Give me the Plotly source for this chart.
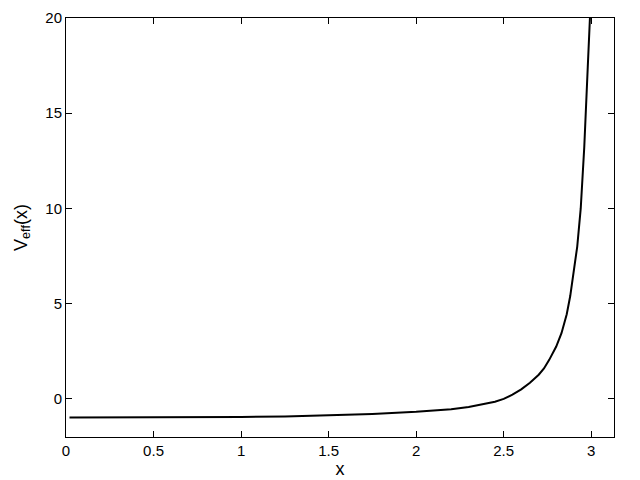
import plotly.graph_objects as go

# curve
x_vals = [0.02, 0.25, 0.5, 0.75, 0.9, 0.95, 1.0, 1.25, 1.5, 1.75, 2.0, 2.1,
          2.2, 2.3, 2.4, 2.45, 2.5, 2.55, 2.6, 2.65, 2.7, 2.73, 2.76, 2.8,
          2.83, 2.86, 2.88, 2.9, 2.92, 2.94, 2.96, 2.98, 2.995]
v_eff = [-0.97, -0.97, -0.97, -0.97, -0.96, -0.95, -0.95, -0.92, -0.87, -0.79,
         -0.68, -0.62, -0.54, -0.43, -0.27, -0.15, 0.0, 0.22, 0.5, 0.85, 1.27,
         1.6, 2.05, 2.75, 3.45, 4.45, 5.4, 6.6, 8.0, 10.0, 13.2, 17.4, 20.5]

x_ticks = [0, 0.5, 1, 1.5, 2, 2.5, 3]
y_ticks = [0, 5, 10, 15, 20]

fig = go.Figure(
    go.Scatter(
        x=x_vals,
        y=v_eff,
        mode='lines',
        line=dict(color='black', width=2),
        showlegend=False,
    )
)

axis_style = dict(
    showgrid=False,
    zeroline=False,
    showline=True,
    linecolor='black',
    linewidth=1,
    mirror='ticks',
    ticks='inside',
    ticklen=6,
    tickcolor='black',
    automargin=False,
    tickfont=dict(family='Liberation Sans, Arial, sans-serif', size=15, color='black'),
)

fig.update_xaxes(
    range=[0, 3.13],
    tickvals=x_ticks,
    title=dict(text='x', standoff=4),
    **axis_style,
)
fig.update_yaxes(
    range=[-2, 20],
    tickvals=y_ticks,
    title=dict(text='V<sub>eff</sub>(x)', standoff=13),
    **axis_style,
)

# the page body adds an 8px offset, so the figure is a bit smaller
fig.update_layout(
    width=632,
    height=472,
    margin=dict(l=58, r=26, t=10, b=43),
    plot_bgcolor='white',
    paper_bgcolor='white',
    font=dict(family='Liberation Sans, Arial, sans-serif', size=15, color='black'),
)

fig.write_html('out.html')
